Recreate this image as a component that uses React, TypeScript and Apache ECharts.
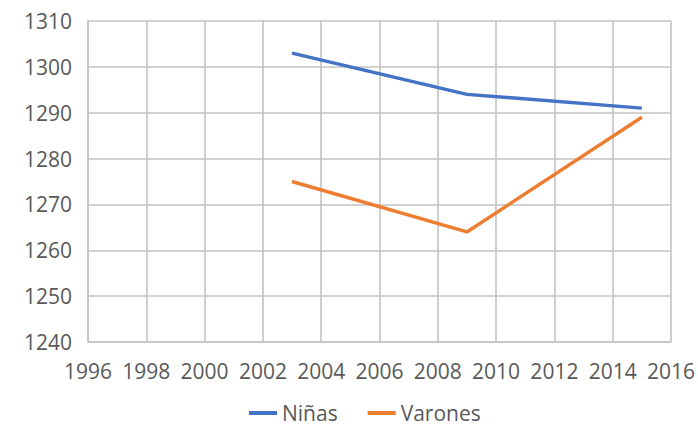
import React, { useEffect, useRef } from "react";
import * as echarts from "echarts";

const years = [2003, 2009, 2015];
const ninas = [1303, 1294, 1291];
const varones = [1275, 1264, 1289];
const seriesNames = ["Niñas", "Varones"];
const colors = ["#4472C4", "#ED7D31"];

export default function App() {
  const ref = useRef<HTMLDivElement>(null);
  useEffect(() => {
    if (!ref.current) return;
    const chart = echarts.init(ref.current, undefined, { renderer: "svg" });
    const font = "'Open Sans', 'Liberation Sans', sans-serif";
    const gridLine = { show: true, lineStyle: { color: "#c3c3c3", width: 1.6 } };
    const fmt = (v: number) => String(v);
    chart.setOption({
      animation: false,
      backgroundColor: "#ffffff",
      textStyle: { fontFamily: font },
      grid: { left: 88, right: 25, top: 21, bottom: 87 },
      legend: {
        bottom: 4,
        left: 249,
        padding: 0,
        icon: "rect",
        itemWidth: 28,
        itemHeight: 4,
        itemGap: 30,
        textStyle: { fontSize: 21, color: "#595959", fontFamily: font, lineHeight: 24 },
        data: seriesNames,
      },
      xAxis: {
        type: "value",
        min: 1996,
        max: 2016,
        interval: 2,
        axisLine: { show: true, lineStyle: { color: "#c3c3c3", width: 1.6 } },
        axisTick: { show: false },
        splitLine: gridLine,
        axisLabel: { fontSize: 21, color: "#595959", margin: 18, fontFamily: font, formatter: fmt },
      },
      yAxis: {
        type: "value",
        min: 1240,
        max: 1310,
        interval: 10,
        axisLine: { show: true, lineStyle: { color: "#c3c3c3", width: 1.6 } },
        axisTick: { show: false },
        splitLine: gridLine,
        axisLabel: { fontSize: 21, color: "#595959", margin: 16, fontFamily: font, formatter: fmt },
      },
      series: [
        {
          name: seriesNames[0],
          type: "line",
          data: years.map((y, i) => [y, ninas[i]]),
          symbol: "none",
          lineStyle: { color: colors[0], width: 3.5 },
          itemStyle: { color: colors[0] },
        },
        {
          name: seriesNames[1],
          type: "line",
          data: years.map((y, i) => [y, varones[i]]),
          symbol: "none",
          lineStyle: { color: colors[1], width: 3.5 },
          itemStyle: { color: colors[1] },
        },
      ],
    });
    return () => chart.dispose();
  }, []);
  return (
    <div
      ref={ref}
      style={{ position: "absolute", left: 0, top: 0, width: 698, height: 429 }}
    />
  );
}
